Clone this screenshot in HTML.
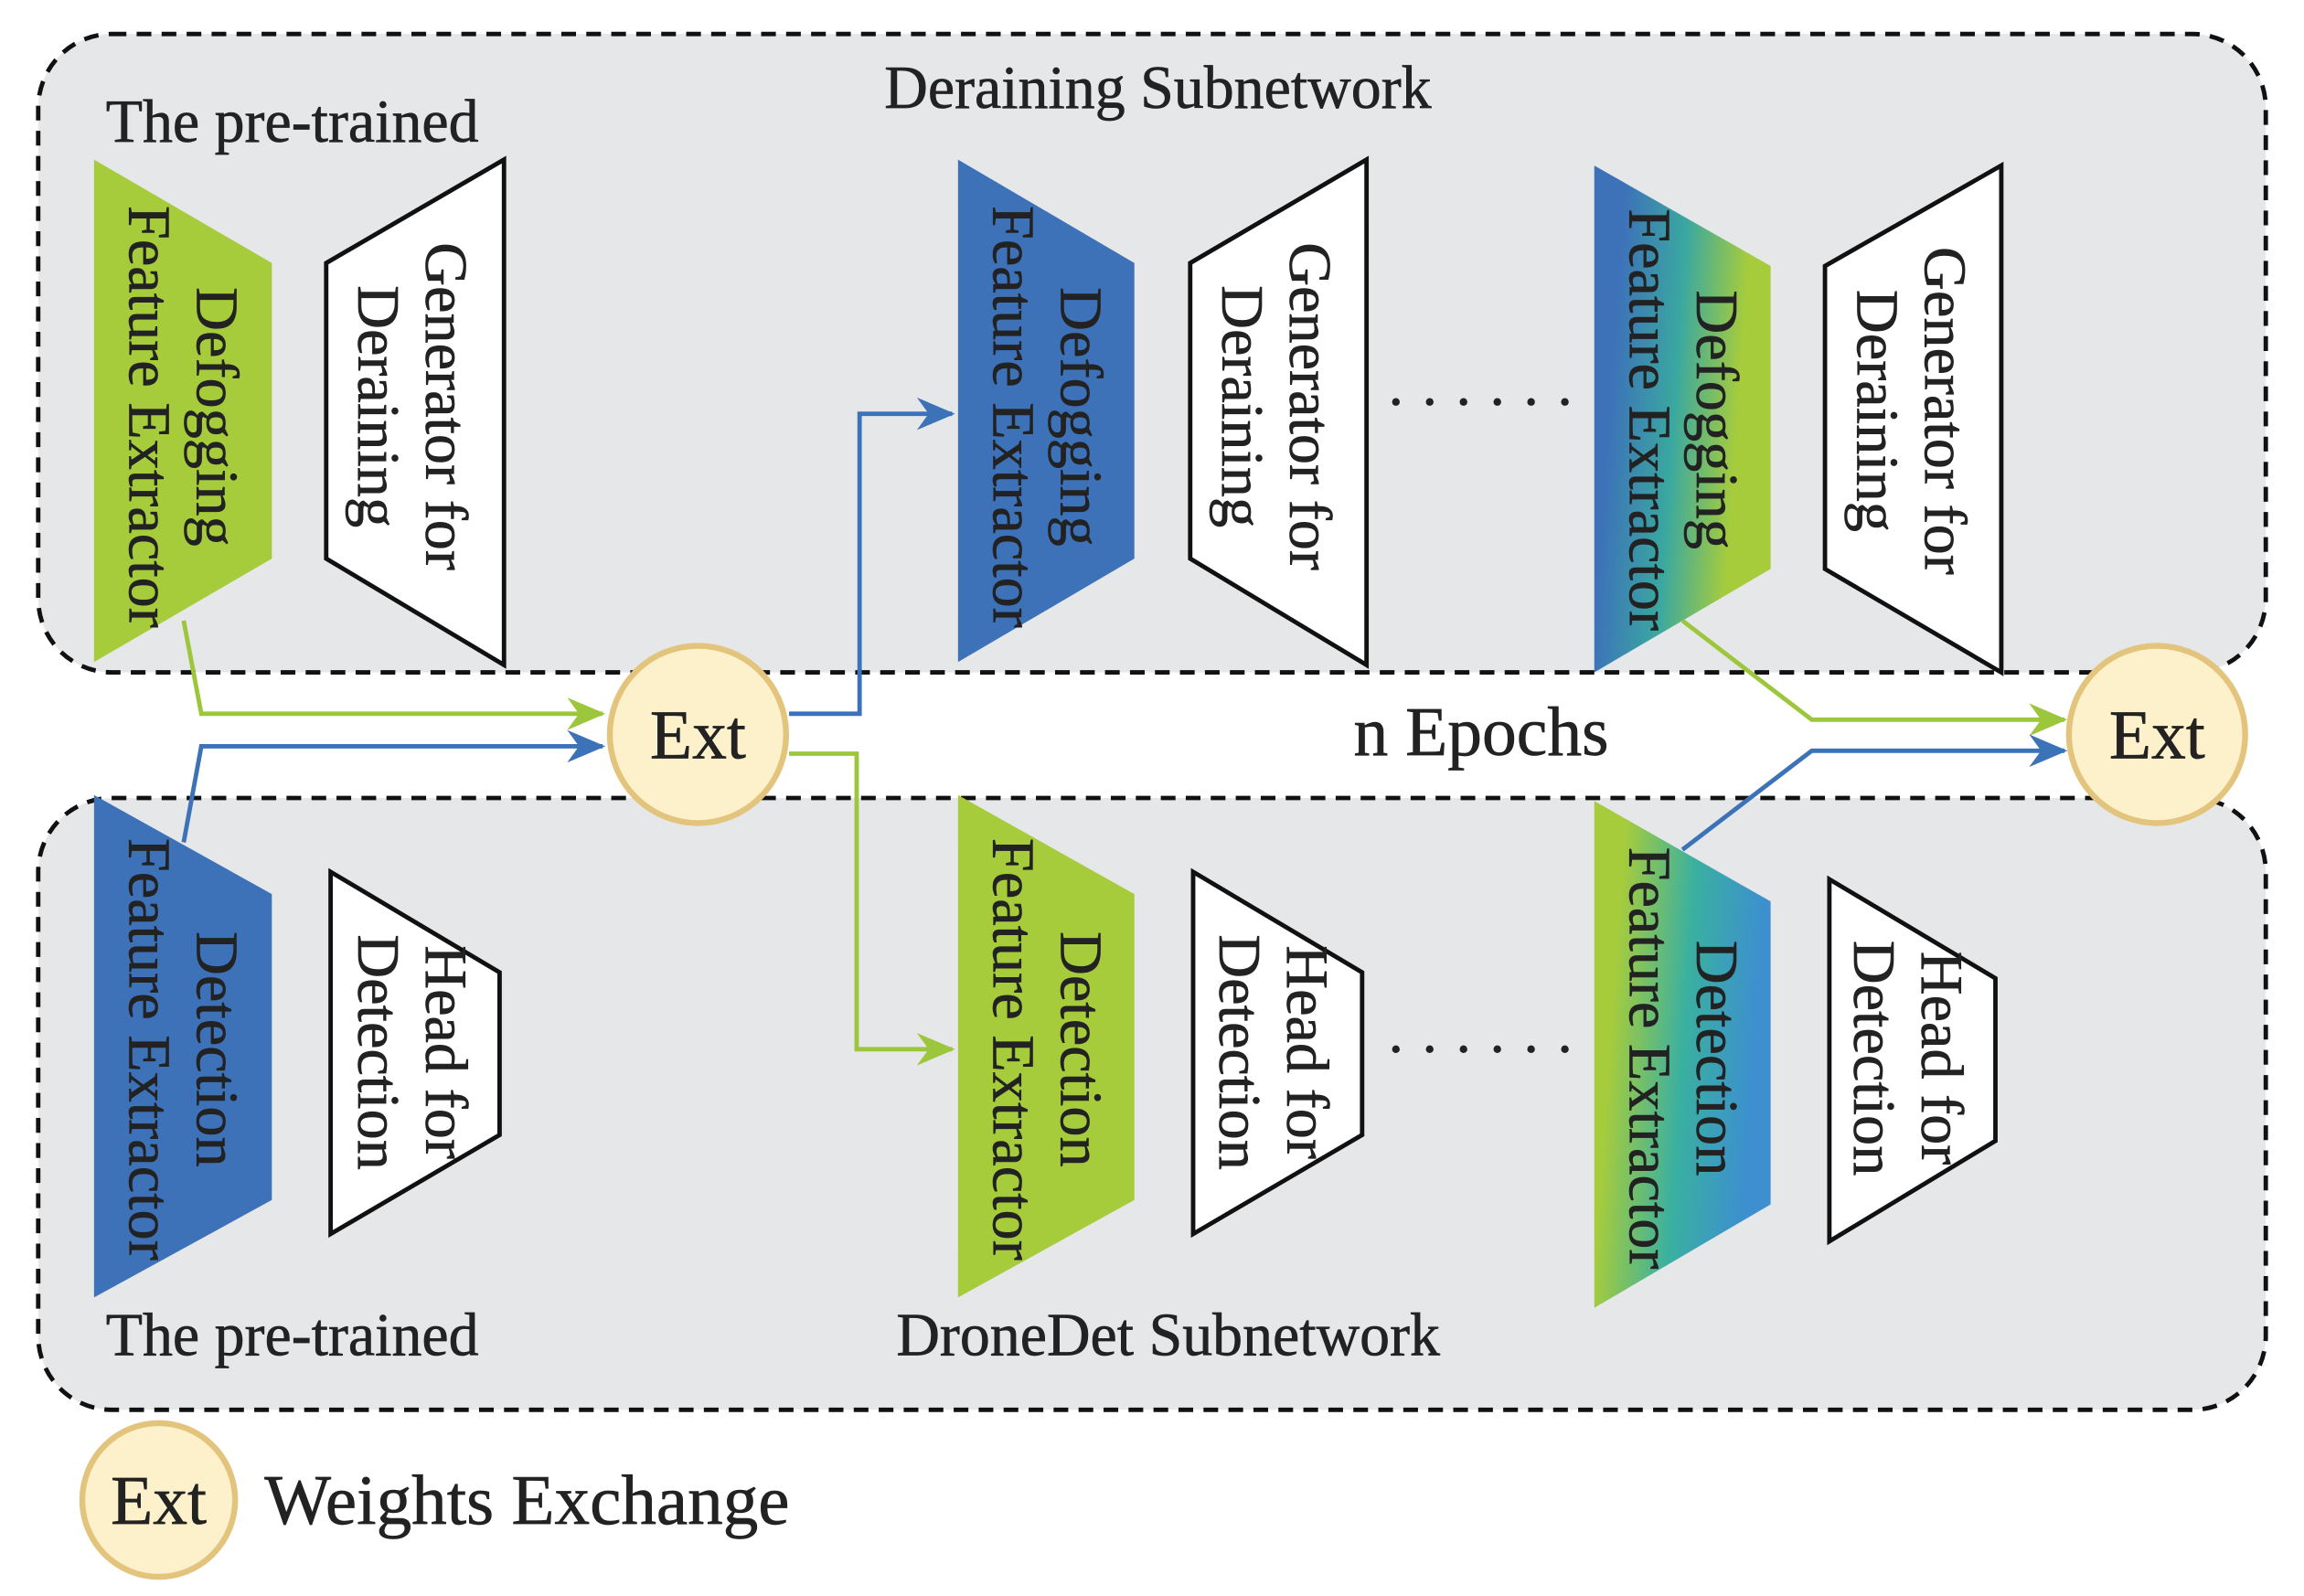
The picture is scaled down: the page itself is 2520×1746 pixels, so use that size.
<!DOCTYPE html>
<html><head><meta charset="utf-8"><style>html,body{margin:0;padding:0;background:#fff}svg{display:block}</style></head>
<body>
<svg width="2520" height="1746" viewBox="0 0 1568 1080" preserveAspectRatio="none" xmlns="http://www.w3.org/2000/svg" font-family="Liberation Serif, serif" fill="#222">
<defs>
<linearGradient id="g1" x1="0" y1="0.4" x2="1" y2="0.6"><stop offset="0.1" stop-color="#3d72b9"/><stop offset="0.45" stop-color="#3aa8a0"/><stop offset="0.8" stop-color="#a6cc3c"/></linearGradient>
<linearGradient id="g2" x1="0" y1="0.4" x2="1" y2="0.6"><stop offset="0.1" stop-color="#a6cc3c"/><stop offset="0.5" stop-color="#3ab0a0"/><stop offset="0.9" stop-color="#3d8fd0"/></linearGradient>
<marker id="ab" markerWidth="26" markerHeight="22" refX="24" refY="11" orient="auto" markerUnits="userSpaceOnUse" viewBox="0 0 26 22"><path d="M0,0 L26,11 L0,22 L8,11z" fill="#3c72b8"/></marker>
<marker id="ag" markerWidth="26" markerHeight="22" refX="24" refY="11" orient="auto" markerUnits="userSpaceOnUse" viewBox="0 0 26 22"><path d="M0,0 L26,11 L0,22 L8,11z" fill="#9cc63b"/></marker>
</defs>
<rect x="26" y="23" width="1516" height="432" rx="50" fill="#e6e7e9" stroke="#111" stroke-width="3" stroke-dasharray="10,7"/>
<rect x="26" y="540" width="1516" height="414" rx="50" fill="#e6e7e9" stroke="#111" stroke-width="3" stroke-dasharray="10,7"/>
<g font-size="41" stroke="#222" stroke-width="0.4">
<text x="788" y="73" text-anchor="middle">Deraining Subnetwork</text>
<text x="72" y="96">The pre-trained</text>
<text x="72" y="917">The pre-trained</text>
<text x="795" y="917" text-anchor="middle">DroneDet Subnetwork</text>
<text x="1008" y="511" text-anchor="middle" font-size="47">n Epochs</text>
<text x="180" y="1031" font-size="48">Weights Exchange</text>
</g>
<g fill="#222">
<circle cx="950" cy="272" r="2.6"/><circle cx="973" cy="272" r="2.6"/><circle cx="996" cy="272" r="2.6"/><circle cx="1019" cy="272" r="2.6"/><circle cx="1042" cy="272" r="2.6"/><circle cx="1065" cy="272" r="2.6"/>
<circle cx="950" cy="710" r="2.6"/><circle cx="973" cy="710" r="2.6"/><circle cx="996" cy="710" r="2.6"/><circle cx="1019" cy="710" r="2.6"/><circle cx="1042" cy="710" r="2.6"/><circle cx="1065" cy="710" r="2.6"/>
</g>
<polygon points="64,108 185,178 185,378 64,448" fill="#a6cc3c"/>
<polygon points="652,108 772,178 772,378 652,448" fill="#3d72b9"/>
<polygon points="1085,112 1205,180 1205,385 1085,455" fill="url(#g1)"/>
<g fill="#fff" stroke="#111" stroke-width="3">
<polygon points="222,178 343,108 343,450 222,378"/>
<polygon points="810,178 930,108 930,450 810,378"/>
<polygon points="1242,180 1362,112 1362,455 1242,385"/>
<polygon points="225,590 340,658 340,768 225,835"/>
<polygon points="812,590 927,658 927,768 812,835"/>
<polygon points="1245,595 1358,662 1358,772 1245,840"/>
</g>
<polygon points="64,538 185,605 185,812 64,878" fill="#3d72b9"/>
<polygon points="652,538 772,605 772,812 652,878" fill="#a6cc3c"/>
<polygon points="1085,542 1205,610 1205,815 1085,885" fill="url(#g2)"/>
<g font-size="41" text-anchor="middle" stroke="#222" stroke-width="0.4">
<g transform="translate(124,282) rotate(90)"><text y="-10">Defogging</text><text y="36">Feature Extractor</text></g>
<g transform="translate(712,282) rotate(90)"><text y="-10">Defogging</text><text y="36">Feature Extractor</text></g>
<g transform="translate(1145,284) rotate(90)"><text y="-10">Defogging</text><text y="36">Feature Extractor</text></g>
<g transform="translate(280,275) rotate(90)"><text y="-10">Generator for</text><text y="36">Deraining</text></g>
<g transform="translate(868,275) rotate(90)"><text y="-10">Generator for</text><text y="36">Deraining</text></g>
<g transform="translate(1300,278) rotate(90)"><text y="-10">Generator for</text><text y="36">Deraining</text></g>
<g transform="translate(124,710) rotate(90)"><text y="-10">Detection</text><text y="36">Feature Extractor</text></g>
<g transform="translate(712,710) rotate(90)"><text y="-10">Detection</text><text y="36">Feature Extractor</text></g>
<g transform="translate(1145,716) rotate(90)"><text y="-10">Detection</text><text y="36">Feature Extractor</text></g>
<g transform="translate(280,712) rotate(90)"><text y="-10">Head for</text><text y="36">Detection</text></g>
<g transform="translate(866,712) rotate(90)"><text y="-10">Head for</text><text y="36">Detection</text></g>
<g transform="translate(1298,716) rotate(90)"><text y="-10">Head for</text><text y="36">Detection</text></g>
</g>
<g fill="none" stroke-width="3">
<polyline points="125,420 137,483 410,483" stroke="#9cc63b" marker-end="url(#ag)"/>
<polyline points="125,570 137,505 410,505" stroke="#3c72b8" marker-end="url(#ab)"/>
<polyline points="537,483 585,483 585,280 648,280" stroke="#3c72b8" marker-end="url(#ab)"/>
<polyline points="537,510 583,510 583,710 648,710" stroke="#9cc63b" marker-end="url(#ag)"/>
<polyline points="1145,420 1233,487 1405,487" stroke="#9cc63b" marker-end="url(#ag)"/>
<polyline points="1145,575 1233,508 1405,508" stroke="#3c72b8" marker-end="url(#ab)"/>
</g>
<g fill="#fdf1cc" stroke="#e3c47c" stroke-width="4">
<circle cx="475" cy="497" r="60"/>
<circle cx="1468" cy="497" r="60"/>
<circle cx="108" cy="1015" r="52"/>
</g>
<g font-size="47" text-anchor="middle" stroke="#222" stroke-width="0.4">
<text x="475" y="513">Ext</text>
<text x="1468" y="513">Ext</text>
<text x="108" y="1031">Ext</text>
</g>
</svg>
</body></html>
